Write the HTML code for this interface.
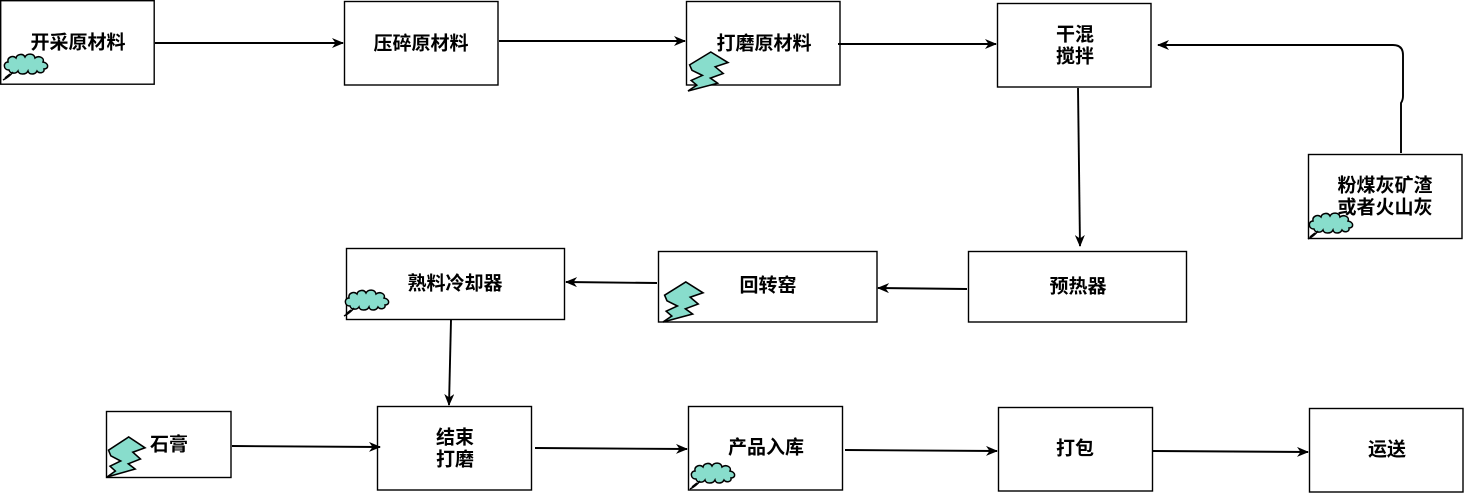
<!DOCTYPE html>
<html>
<head>
<meta charset="utf-8">
<style>
  html,body{margin:0;padding:0;background:#fff;}
  body{width:1464px;height:493px;overflow:hidden;}
  svg{display:block;}
  text{font-family:"Liberation Sans","Noto Sans CJK SC",sans-serif;font-weight:bold;font-size:19px;fill:#000;text-anchor:middle;dominant-baseline:central;}
</style>
</head>
<body>
<svg width="1464" height="493" viewBox="0 0 1464 493" xmlns="http://www.w3.org/2000/svg">
  <defs>
    <marker id="ah" viewBox="0 0 12 10" refX="11" refY="5" markerWidth="12" markerHeight="10" orient="auto" markerUnits="userSpaceOnUse">
      <path d="M0,0 L12,5 L0,10 L3.5,5 Z" fill="#000"/>
    </marker>
    <g id="cloud">
      <path d="M6,17 C0,17 0,9 5,9 C4,4 10,2 13,5 C14,1 20,0 22,4 C24,0 31,0 32,5 C36,2 42,5 40,9 C46,10 46,16 41,16 C42,20 36,21 34,18 C32,22 26,22 25,18 C23,22 16,22 15,18 C13,21 7,21 6,17 Z" fill="#88DDCC" stroke="#000" stroke-width="1.5"/>
      <path d="M10,19 Q6,24 0,27 M7,21 L2,25" fill="none" stroke="#000" stroke-width="1.5"/>
    </g>
    <polygon id="bolt" points="0.04,0.33 0.57,0 1,0.27 0.68,0.38 0.88,0.55 0.56,0.67 0.74,0.8 0,1 0.22,0.85 0.08,0.73 0.36,0.6 0.1,0.47" fill="#88DDCC" stroke="#000" stroke-width="0.04" stroke-linejoin="miter"/>
  </defs>

  <g fill="#fff" stroke="#000" stroke-width="1.4">
    <rect x="0.7" y="0.7" width="153.5" height="83.5"/>
    <rect x="344.5" y="1.5" width="153.5" height="83.5"/>
    <rect x="686.5" y="1.5" width="153.5" height="83.5"/>
    <rect x="997.5" y="3.5" width="153.5" height="83.5"/>
    <rect x="1308.5" y="154.5" width="153.5" height="84"/>
    <rect x="346.5" y="248.5" width="218" height="71"/>
    <rect x="658.5" y="251.5" width="218.5" height="70.5"/>
    <rect x="968.5" y="251.5" width="218" height="70.5"/>
    <rect x="106.5" y="411.5" width="124.5" height="66"/>
    <rect x="377.5" y="406.5" width="154" height="83.5"/>
    <rect x="688.5" y="406.5" width="154" height="83.5"/>
    <rect x="998.5" y="407.5" width="154" height="83.5"/>
    <rect x="1309.5" y="408.5" width="153.5" height="83.5"/>
  </g>

  <g fill="none" stroke="#000" stroke-width="1.9" marker-end="url(#ah)">
    <line x1="155" y1="43" x2="343" y2="43"/>
    <line x1="499" y1="41" x2="685" y2="41"/>
    <line x1="838" y1="44" x2="996" y2="44"/>
    <line x1="1078" y1="88" x2="1080" y2="246"/>
    <path d="M1401,153 L1401,103 Q1403,100 1403,96 L1403,55 Q1403,45 1393,45 L1158,45"/>
    <line x1="967" y1="289" x2="878" y2="288"/>
    <line x1="657" y1="283" x2="566" y2="282"/>
    <line x1="451" y1="320" x2="449" y2="405"/>
    <line x1="232" y1="446" x2="380" y2="447"/>
    <line x1="535" y1="448" x2="687" y2="449"/>
    <line x1="845" y1="450" x2="997" y2="451"/>
    <line x1="1153" y1="451" x2="1308" y2="452"/>
  </g>

  <use href="#cloud" transform="translate(3,53)"/>
  <use href="#cloud" transform="translate(344,289)"/>
  <use href="#cloud" transform="translate(1308,212)"/>
  <use href="#cloud" transform="translate(690,462)"/>

  <use href="#bolt" transform="translate(688,52) scale(40,39)"/>
  <use href="#bolt" transform="translate(663,282) scale(40,40)"/>
  <use href="#bolt" transform="translate(107,437) scale(38,40)"/>

  <text x="78" y="43">开采原材料</text>
  <text x="421" y="44">压碎原材料</text>
  <text x="764" y="44">打磨原材料</text>
  <text x="1075" y="35">干混</text>
  <text x="1075" y="57">搅拌</text>
  <text x="1385" y="186">粉煤灰矿渣</text>
  <text x="1385" y="208">或者火山灰</text>
  <text x="455" y="284">熟料冷却器</text>
  <text x="768" y="286">回转窑</text>
  <text x="1078" y="287">预热器</text>
  <text x="169" y="445">石膏</text>
  <text x="455" y="438">结束</text>
  <text x="455" y="460">打磨</text>
  <text x="766" y="448">产品入库</text>
  <text x="1075" y="449">打包</text>
  <text x="1387" y="450">运送</text>
</svg>
</body>
</html>
